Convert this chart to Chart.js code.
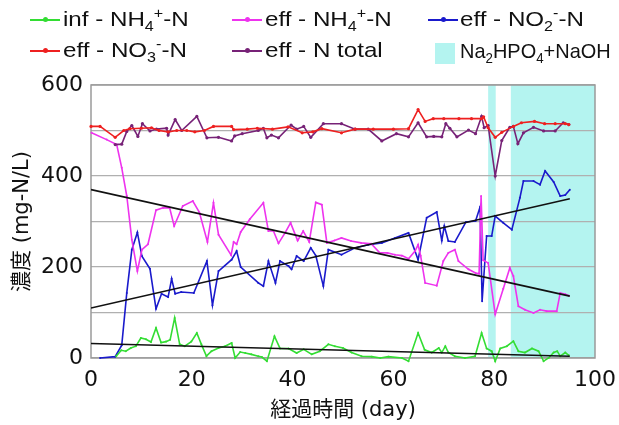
<!DOCTYPE html>
<html>
<head>
<meta charset="utf-8">
<script src="https://cdn.jsdelivr.net/npm/chart.js@4.4.0/dist/chart.umd.min.js"></script>
<style>
body { margin: 0; background: #fff; }
#wrap { position: relative; width: 619px; height: 425px; font-family: "Liberation Sans", Arial, sans-serif; color: #111; }
#chart { position: absolute; left: 0; top: 0; }
.item { position: absolute; font-size: 21px; white-space: nowrap; line-height: 24px; transform: scaleX(1.15); transform-origin: left center; }
.icon { position: absolute; height: 2px; width: 30px; }
.icon i { position: absolute; left: 13px; top: -2px; width: 5px; height: 5px; border-radius: 50%; }
.swatch { position: absolute; width: 20px; height: 21px; background: #b4f4f0; }
sub, sup { font-size: 14px; line-height: 0; }
</style>
</head>
<body>
<div id="wrap">
  <canvas id="chart" width="619" height="425"></canvas>
  <div class="icon" style="left:30px;top:19px;background:#33dd33"><i style="background:#33dd33"></i></div>
  <div class="item" style="left:63px;top:7px">inf - NH<sub>4</sub><sup>+</sup>-N</div>
  <div class="icon" style="left:232px;top:19px;background:#ee33ee"><i style="background:#ee33ee"></i></div>
  <div class="item" style="left:265px;top:7px">eff - NH<sub>4</sub><sup>+</sup>-N</div>
  <div class="icon" style="left:428px;top:19px;background:#1a1acc"><i style="background:#1a1acc"></i></div>
  <div class="item" style="left:460px;top:7px">eff - NO<sub>2</sub><sup>-</sup>-N</div>
  <div class="icon" style="left:30px;top:50px;background:#ee2020"><i style="background:#ee2020"></i></div>
  <div class="item" style="left:63px;top:38px">eff - NO<sub>3</sub><sup>-</sup>-N</div>
  <div class="icon" style="left:232px;top:50px;background:#772277"><i style="background:#772277"></i></div>
  <div class="item" style="left:265px;top:38px">eff - N total</div>
  <div class="swatch" style="left:435px;top:43px"></div>
  <div class="item" style="left:460px;top:39px;transform:scaleX(0.95)">Na<sub>2</sub>HPO<sub>4</sub>+NaOH</div>
</div>
<script>
// inf - NH4+-N
var infNH4Days = [5.0, 6.0, 6.9, 7.9, 8.9, 9.9, 10.9, 11.9, 12.9, 13.9, 14.9, 15.7, 16.6, 17.6, 18.6, 19.9, 21.0, 21.9, 22.9, 23.9, 25.3, 26.6, 27.9, 28.6, 29.6, 30.6, 31.8, 33.2, 33.9, 34.9, 36.4, 37.5, 39.2, 40.8, 42.2, 43.8, 45.4, 47.1, 48.4, 50.0, 51.7, 53.7, 55.7, 57.4, 59.0, 61.7, 63.0, 64.9, 66.2, 67.6, 69.0, 69.6, 70.3, 70.9, 72.2, 74.2, 76.2, 77.5, 78.5, 79.5, 80.2, 81.2, 82.5, 83.8, 84.8, 86.1, 87.5, 88.8, 89.8, 90.8, 91.8, 92.5, 93.1, 94.1, 94.8];
var infNH4 = [4, 17, 15, 22, 26, 44, 41, 35, 66, 34, 36, 40, 88, 30, 26, 36, 55, 30, 4, 15, 22, 26, 33, 0, 13, 11, 8, 4, 2, -7, 48, 21, 21, 11, 19, 8, 15, 30, 26, 22, 12, 4, 3, 0, 3, 0, -7, 55, 18, 12, 22, 12, 26, 12, 4, 0, 4, 55, 21, 15, -7, 21, 26, 37, 15, 12, 21, 15, -7, 0, 12, 15, 4, 12, 6];

// eff - NH4+-N
var effNH4Days = [0.1, 3.1, 5.1, 6.1, 7.1, 8.1, 9.2, 10.1, 11.3, 12.9, 14.3, 15.6, 16.5, 18.2, 20.2, 21.5, 23.1, 24.3, 25.3, 27.8, 28.3, 28.9, 29.7, 31.5, 34.2, 35.2, 36.2, 37.2, 38.5, 39.6, 41.0, 42.1, 43.3, 44.6, 45.8, 46.8, 48.3, 49.7, 51.6, 53.6, 55.6, 57.3, 58.8, 60.3, 61.7, 63.0, 64.3, 64.9, 65.4, 66.3, 68.6, 69.9, 70.9, 72.2, 72.9, 74.9, 76.3, 77.0, 77.4, 77.8, 78.8, 80.2, 81.8, 83.1, 83.8, 84.8, 86.1, 87.8, 89.1, 90.4, 92.4, 93.1, 94.1, 94.8];
var effNH4 = [495, 480, 469, 418, 356, 260, 191, 238, 250, 325, 330, 330, 290, 334, 345, 320, 255, 341, 271, 226, 255, 250, 277, 305, 341, 279, 279, 252, 275, 297, 258, 279, 255, 342, 337, 253, 258, 264, 257, 253, 251, 231, 231, 227, 225, 218, 235, 249, 225, 165, 159, 213, 231, 238, 213, 195, 187, 185, 356, 215, 209, 96, 152, 198, 180, 114, 106, 99, 106, 103, 103, 143, 140, 137];

// eff - NO2--N
var effNO2Days = [1.8, 4.8, 6.1, 7.1, 8.1, 9.2, 10.1, 11.7, 12.9, 14.0, 15.3, 16.0, 16.7, 17.9, 20.4, 23.0, 24.1, 25.3, 27.9, 28.9, 29.7, 33.2, 34.2, 35.2, 36.6, 37.5, 39.2, 39.8, 40.8, 42.2, 43.6, 44.6, 46.1, 47.1, 49.7, 52.4, 55.0, 57.7, 60.3, 63.0, 64.9, 66.6, 68.6, 69.6, 70.1, 70.9, 72.2, 74.4, 76.3, 77.2, 77.6, 78.5, 79.5, 80.2, 81.8, 83.5, 85.1, 85.8, 87.8, 89.1, 90.1, 91.8, 93.1, 94.1, 95.0];
var effNO2 = [0, 3, 28, 143, 238, 276, 224, 196, 108, 141, 134, 174, 141, 145, 143, 213, 116, 191, 216, 235, 200, 165, 158, 213, 165, 213, 202, 195, 224, 213, 242, 225, 158, 238, 227, 242, 249, 253, 264, 275, 216, 308, 321, 258, 290, 257, 255, 299, 301, 332, 125, 268, 268, 312, 297, 282, 352, 389, 389, 381, 411, 387, 356, 358, 370];

// eff - NO3--N
var effNO3Days = [0, 1.8, 4.8, 6.5, 7.7, 10.0, 12.0, 13.5, 15.3, 17.0, 19.0, 20.6, 22.5, 24.3, 27.9, 28.3, 31.0, 33.0, 36.0, 39.1, 41.9, 44.0, 45.8, 49.7, 52.4, 56.0, 60.0, 63.0, 64.9, 66.3, 67.9, 70.0, 73.0, 75.5, 77.5, 77.9, 78.8, 80.2, 81.5, 83.8, 85.4, 88.0, 90.0, 92.1, 94.1, 94.8];
var effNO3 = [509, 509, 485, 500, 504, 505, 506, 500, 497, 500, 500, 497, 500, 509, 509, 502, 503, 505, 503, 508, 495, 497, 504, 495, 503, 503, 503, 504, 546, 520, 526, 526, 526, 526, 526, 530, 506, 485, 496, 509, 517, 520, 515, 515, 515, 513];

// eff - N total
var effNTotDays = [4.8, 6.1, 7.1, 8.1, 9.3, 10.2, 11.7, 13.0, 15.0, 15.3, 16.7, 18.0, 21.0, 23.0, 25.3, 27.9, 28.5, 30.0, 33.2, 34.2, 34.9, 35.8, 37.2, 39.7, 40.8, 42.2, 43.6, 46.1, 49.7, 52.4, 55.0, 57.7, 60.6, 63.0, 64.9, 66.6, 68.0, 69.6, 70.4, 71.2, 72.6, 74.9, 76.3, 77.5, 78.0, 78.8, 80.2, 81.5, 83.1, 83.8, 84.7, 85.8, 87.8, 89.8, 92.1, 93.7, 94.8];
var effNTot = [469, 470, 498, 511, 487, 515, 499, 503, 505, 490, 524, 500, 531, 484, 485, 477, 488, 493, 500, 505, 484, 490, 484, 512, 503, 509, 485, 515, 515, 503, 503, 477, 493, 486, 517, 486, 487, 486, 515, 505, 486, 501, 493, 531, 506, 511, 400, 478, 507, 509, 471, 495, 507, 499, 499, 517, 513];

// linear trend lines (day 0 and day 95)
var trendDays = [0, 95];
var trendEffNH4 = [370, 136];
var trendEffNO2 = [110, 350];
var trendInfNH4 = [32, 4];

// Na2HPO4+NaOH dosing periods
var dosingStart = [78.8, 83.3];
var dosingEnd = [80.3, 100];

function pts(xs, ys) {
    return xs.map(function (x, i) { return { x: x, y: ys[i] }; });
}

function series(label, xs, ys, color, radius) {
    return {
        label: label,
        data: pts(xs, ys),
        borderColor: color,
        backgroundColor: color,
        borderWidth: 1.6,
        pointRadius: radius,
        pointBorderWidth: 0,
        tension: 0,
        clip: false
    };
}

function trend(ys) {
    return {
        label: 'trend',
        data: pts(trendDays, ys),
        borderColor: '#111',
        borderWidth: 1.6,
        pointRadius: 0,
        tension: 0
    };
}

/**
 * shaded dosing periods and plot frame
 */
var dosingBands = {
    id: 'dosingBands',
    beforeDraw: function (chart) {
        var ctx = chart.ctx, a = chart.chartArea, x = chart.scales.x;
        ctx.save();
        ctx.fillStyle = '#b4f4f0';
        for (var i = 0; i < dosingStart.length; i++) {
            var x0 = x.getPixelForValue(dosingStart[i]);
            var x1 = x.getPixelForValue(dosingEnd[i]);
            ctx.fillRect(x0, a.top, x1 - x0, a.bottom - a.top);
        }
        ctx.restore();
    },
    beforeDatasetsDraw: function (chart) {
        var ctx = chart.ctx, a = chart.chartArea;
        ctx.save();
        ctx.strokeStyle = '#9a9a9a';
        ctx.lineWidth = 1.5;
        ctx.strokeRect(a.left, a.top, a.right - a.left, a.bottom - a.top);
        ctx.restore();
    }
};

var tickFont = { family: '"DejaVu Sans", sans-serif', size: 22 };
var titleFont = { family: '"DejaVu Sans", "Noto Sans CJK JP", sans-serif', size: 21 };

var config = {
    type: 'line',
    data: {
        datasets: [
            trend(trendEffNH4),
            trend(trendEffNO2),
            trend(trendInfNH4),
            series('inf - NH4+-N', infNH4Days, infNH4, '#33dd33', 1),
            series('eff - NO3--N', effNO3Days, effNO3, '#ee2020', 1.6),
            series('eff - N total', effNTotDays, effNTot, '#772277', 1.6),
            series('eff - NH4+-N', effNH4Days, effNH4, '#ee33ee', 1),
            series('eff - NO2--N', effNO2Days, effNO2, '#1a1acc', 1)
        ]
    },
    options: {
        responsive: false,
        animation: false,
        layout: { padding: { top: 85, right: 24, left: 0, bottom: 0 } },
        plugins: {
            legend: { display: false },
            tooltip: { enabled: false }
        },
        scales: {
            x: {
                type: 'linear',
                min: 0,
                max: 100,
                ticks: { stepSize: 20, font: tickFont, color: '#111', padding: 9 },
                grid: { display: false, drawTicks: false },
                border: { display: false },
                title: { display: true, text: '経過時間 (day)', font: titleFont, color: '#111', padding: { top: 0, bottom: 2 } },
                afterFit: function (s) {
                    s.height = 67;
                    s.paddingLeft = 0;
                    s.paddingRight = 0;
                }
            },
            y: {
                min: 0,
                max: 600,
                ticks: {
                    stepSize: 100,
                    font: tickFont,
                    color: '#111',
                    padding: 8,
                    callback: function (v) { return v % 200 === 0 ? v : ''; }
                },
                grid: { color: '#b0b0b0', lineWidth: 1.2, drawTicks: false },
                border: { display: false },
                title: { display: true, text: '濃度 (mg-N/L)', font: titleFont, color: '#111', padding: { top: 10, bottom: 0 } },
                afterFit: function (s) {
                    s.width = 91;
                    s.paddingTop = 0;
                    s.paddingBottom = 0;
                }
            }
        }
    },
    plugins: [dosingBands]
};

var chart = new Chart(document.getElementById('chart'), config);
</script>
</body>
</html>
